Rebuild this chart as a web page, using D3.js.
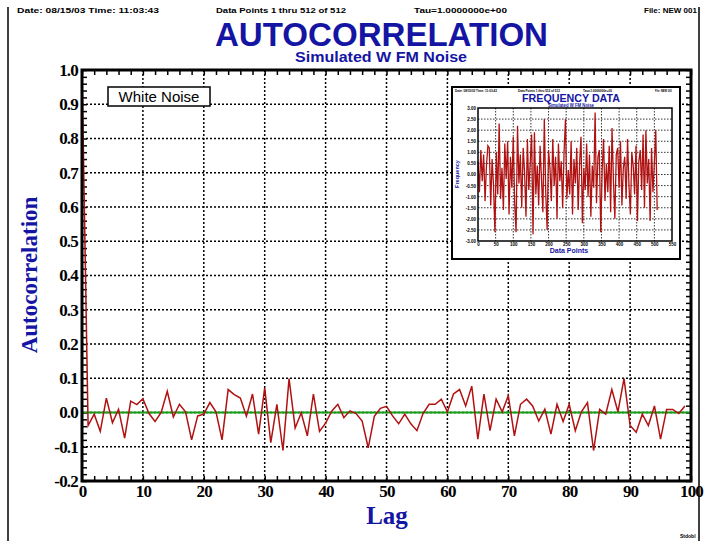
<!DOCTYPE html>
<html>
<head>
<meta charset="utf-8">
<script src="https://cdn.jsdelivr.net/npm/d3@7"></script>
<style>
body { margin: 0; background: #fff; }
svg { display: block; }
</style>
</head>
<body>
<svg width="705" height="541"></svg>
<script>
// autocorrelation by lag (lag = index)
var acf = [1.0, -0.038, -0.005, -0.055, 0.042, -0.03, 0.009, -0.075, 0.033, 0.023,
	0.04, -0.003, -0.026, 0.0, 0.062, -0.013, 0.024, 0.002, -0.08, -0.01,
	-0.005, 0.029, 0.002, -0.08, 0.067, 0.052, 0.042, -0.011, 0.054, -0.063,
	0.072, -0.088, 0.024, -0.111, 0.099, -0.045, -0.001, -0.068, 0.054, -0.055,
	-0.031, 0.004, 0.024, -0.015, 0.005, -0.003, -0.025, -0.103, -0.011, 0.012,
	0.018, -0.01, -0.033, -0.005, -0.033, -0.053, -0.003, 0.024, 0.024, 0.039,
	0.002, 0.054, 0.067, 0.019, 0.077, -0.078, 0.054, -0.053, 0.039, 0.002,
	0.049, -0.068, 0.024, 0.039, 0.019, -0.025, 0.01, -0.063, 0.024, -0.026,
	0.024, -0.053, 0.002, 0.029, -0.111, 0.009, -0.005, 0.067, 0.002, 0.099,
	-0.038, -0.058, -0.005, -0.038, 0.019, -0.078, 0.009, 0.009, -0.003, 0.019];

var xTicks = [0, 10, 20, 30, 40, 50, 60, 70, 80, 90, 100];
var yTicks = [-0.2, -0.1, 0.0, 0.1, 0.2, 0.3, 0.4, 0.5, 0.6, 0.7, 0.8, 0.9, 1.0];

// inset: frequency data, every 4th data point
var freqStep = 4;
var freq = [0.6, -0.8, 1.1, -0.3, 0.9, -1.2, 0.4, 1.3, 1.2, -1.4,
	0.7, -0.5, -2.6, 1.0, -0.9, 2.3, -1.1, 0.3, -1.6, 1.4,
	-0.2, 1.5, -1.8, 0.8, -0.6, 1.7, -1.3, -2.6, 2.2, -0.4,
	0.9, -1.5, 1.2, 0.1, -1.9, 1.6, -0.7, 0.5, 1.8, -2.7,
	1.9, -0.9, 0.4, -1.4, 1.3, -0.2, -1.7, 2.5, -0.8, -2.5,
	1.1, 0.3, -1.2, 1.6, -0.5, 0.8, -2.0, 1.4, -0.3, 0.6,
	-1.5, 1.0, 2.5, -1.1, 0.2, -0.9, 1.5, -1.8, 0.7, -0.4,
	1.2, -1.6, 0.5, 1.7, -2.2, 0.3, -0.7, 1.4, -1.0, 0.9,
	-1.9, 0.4, -0.6, 2.8, -1.3, 0.8, 1.1, -2.6, 0.2, 1.6,
	-1.2, 0.5, -0.8, 1.3, -1.7, 2.1, -0.3, -2.0, 0.9, 1.2,
	-0.6, 1.5, -1.4, 0.3, 0.8, -1.1, 1.6, -0.5, -1.8, 1.0,
	0.4, -0.9, 1.3, -2.1, 0.6, 1.1, -0.7, 1.8, -1.5, 2.0,
	-0.4, 0.7, -2.1, 1.2, -0.8, 0.5, 2.0, -1.6];
var insetXTicks = [0, 50, 100, 150, 200, 250, 300, 350, 400, 450, 500, 550];
var insetYTicks = [-3, -2.5, -2, -1.5, -1, -0.5, 0, 0.5, 1, 1.5, 2, 2.5, 3];

var headerTexts = ["Date: 08/15/03  Time: 11:03:43", "Data Points 1 thru 512 of 512", "Tau=1.0000000e+00", "File: NEW 001"];

var svg = d3.select("svg");
var blue = "#1515a3";
var red = "#b01212";
var sans = "'Liberation Sans', Arial, sans-serif";
var serif = "'Liberation Serif', 'Times New Roman', serif";

// page border
svg.append("line").attr("x1", 8).attr("x2", 8).attr("y1", 7).attr("y2", 541).attr("stroke", "#000").attr("stroke-width", 1.5);
svg.append("line").attr("x1", 699).attr("x2", 699).attr("y1", 7).attr("y2", 541).attr("stroke", "#000").attr("stroke-width", 1.5);

// header line
var hdr = svg.append("g").attr("font-family", sans).attr("font-size", 7.5).attr("font-weight", "bold").attr("fill", "#000");
hdr.append("text").attr("x", 17).attr("y", 13).attr("textLength", 142).attr("lengthAdjust", "spacingAndGlyphs").text(headerTexts[0]);
hdr.append("text").attr("x", 216).attr("y", 13).attr("textLength", 130).attr("lengthAdjust", "spacingAndGlyphs").text(headerTexts[1]);
hdr.append("text").attr("x", 414).attr("y", 13).attr("textLength", 93).attr("lengthAdjust", "spacingAndGlyphs").text(headerTexts[2]);
hdr.append("text").attr("x", 644).attr("y", 13).attr("textLength", 53).attr("lengthAdjust", "spacingAndGlyphs").text(headerTexts[3]);

// titles
svg.append("text").attr("x", 215).attr("y", 46).attr("textLength", 333).attr("lengthAdjust", "spacingAndGlyphs")
	.attr("font-family", sans).attr("font-size", 34).attr("font-weight", "bold").attr("fill", blue).text("AUTOCORRELATION");
svg.append("text").attr("x", 295).attr("y", 62).attr("textLength", 172).attr("lengthAdjust", "spacingAndGlyphs")
	.attr("font-family", sans).attr("font-size", 15).attr("font-weight", "bold").attr("fill", blue).text("Simulated W FM Noise");

// main scales
var x = d3.scaleLinear().domain([0, 100]).range([82, 691]);
var y = d3.scaleLinear().domain([-0.2, 1.0]).range([481, 70]);

var g = svg.append("g");

// dotted grid
g.append("g").selectAll("line").data(xTicks.slice(1, -1)).enter().append("line")
	.attr("x1", (d) => x(d)).attr("x2", (d) => x(d)).attr("y1", y(1.0)).attr("y2", y(-0.2))
	.attr("stroke", "#000").attr("stroke-width", 1.5).attr("stroke-dasharray", "2,2");
g.append("g").selectAll("line").data(yTicks.slice(1, -1)).enter().append("line")
	.attr("x1", x(0)).attr("x2", x(100)).attr("y1", (d) => y(d)).attr("y2", (d) => y(d))
	.attr("stroke", "#000").attr("stroke-width", 1.5).attr("stroke-dasharray", "2,2");

// minor ticks, inward on all sides
var minorX = x.ticks(50), minorY = y.ticks(60);
function tickAxis(axis, ticks, size, tr) {
	var a = g.append("g").attr("transform", tr).call(axis.tickValues(ticks).tickSize(size).tickFormat(""));
	a.select(".domain").remove();
	a.selectAll("line").attr("stroke", "#000").attr("stroke-width", 1.5);
}
tickAxis(d3.axisTop(x), minorX, 5, "translate(0," + y(-0.2) + ")");
tickAxis(d3.axisBottom(x), minorX, 5, "translate(0," + y(1.0) + ")");
tickAxis(d3.axisRight(y), minorY, 5, "translate(" + x(0) + ",0)");
tickAxis(d3.axisLeft(y), minorY, 5, "translate(" + x(100) + ",0)");

// zero line
g.append("line").attr("x1", x(0)).attr("x2", x(100)).attr("y1", y(0)).attr("y2", y(0))
	.attr("stroke", "#14a014").attr("stroke-width", 2);

// autocorrelation line
var line = d3.line().x((d, i) => x(i)).y((d) => y(d));
g.append("path").datum(acf).attr("d", line).attr("fill", "none").attr("stroke", red).attr("stroke-width", 1.5);

// frame
g.append("rect").attr("x", x(0)).attr("y", y(1.0)).attr("width", x(100) - x(0)).attr("height", y(-0.2) - y(1.0))
	.attr("fill", "none").attr("stroke", "#000").attr("stroke-width", 3);

// tick labels
var yAx = g.append("g").attr("transform", "translate(" + (x(0) - 3) + ",0)")
	.call(d3.axisLeft(y).tickValues(yTicks).tickSize(0).tickPadding(1).tickFormat((d) => d.toFixed(1)));
yAx.select(".domain").remove();
yAx.selectAll("text").attr("font-family", serif).attr("font-size", 17).attr("font-weight", "bold").attr("fill", "#000").attr("letter-spacing", -0.8);
var xAx = g.append("g").attr("transform", "translate(0," + (y(-0.2) + 3) + ")")
	.call(d3.axisBottom(x).tickValues(xTicks).tickSize(0).tickPadding(1).tickFormat(d3.format("d")));
xAx.select(".domain").remove();
xAx.selectAll("text").attr("font-family", serif).attr("font-size", 17).attr("font-weight", "bold").attr("fill", "#000").attr("letter-spacing", -0.8);

// axis titles
svg.append("text").attr("transform", "translate(37,275) rotate(-90)").attr("text-anchor", "middle")
	.attr("font-family", serif).attr("font-size", 23).attr("font-weight", "bold").attr("fill", blue).text("Autocorrelation");
svg.append("text").attr("x", 387).attr("y", 524).attr("text-anchor", "middle")
	.attr("font-family", serif).attr("font-size", 25).attr("font-weight", "bold").attr("fill", blue).text("Lag");

// legend box
svg.append("rect").attr("x", 108).attr("y", 87).attr("width", 102).attr("height", 19)
	.attr("fill", "#fff").attr("stroke", "#000").attr("stroke-width", 1.5);
svg.append("text").attr("x", 159).attr("y", 102).attr("text-anchor", "middle")
	.attr("font-family", sans).attr("font-size", 15).attr("fill", "#000").text("White Noise");

svg.append("text").attr("x", 680).attr("y", 538).attr("font-family", sans).attr("font-size", 5).attr("font-weight", "bold").text("Stdobl");

// ---- inset: frequency data ----
var ins = svg.append("g");
ins.append("rect").attr("x", 452).attr("y", 87).attr("width", 228).attr("height", 172)
	.attr("fill", "#fff").attr("stroke", "#000").attr("stroke-width", 2);

var ix = d3.scaleLinear().domain([0, 550]).range([478, 672]);
var iy = d3.scaleLinear().domain([-3, 3]).range([241, 108]);

var ihdr = ins.append("g").attr("font-family", sans).attr("font-size", 3.2).attr("font-weight", "bold");
ihdr.append("text").attr("x", 455).attr("y", 91.5).attr("textLength", 42).attr("lengthAdjust", "spacingAndGlyphs").text(headerTexts[0]);
ihdr.append("text").attr("x", 518).attr("y", 91.5).attr("textLength", 42).attr("lengthAdjust", "spacingAndGlyphs").text(headerTexts[1]);
ihdr.append("text").attr("x", 583).attr("y", 91.5).attr("textLength", 29).attr("lengthAdjust", "spacingAndGlyphs").text(headerTexts[2]);
ihdr.append("text").attr("x", 655).attr("y", 91.5).attr("textLength", 17).attr("lengthAdjust", "spacingAndGlyphs").text(headerTexts[3]);

ins.append("text").attr("x", 571).attr("y", 102).attr("text-anchor", "middle").attr("textLength", 98).attr("lengthAdjust", "spacingAndGlyphs")
	.attr("font-family", sans).attr("font-size", 11).attr("font-weight", "bold").attr("fill", blue).text("FREQUENCY DATA");
ins.append("text").attr("x", 571).attr("y", 107).attr("text-anchor", "middle").attr("textLength", 46).attr("lengthAdjust", "spacingAndGlyphs")
	.attr("font-family", sans).attr("font-size", 4.5).attr("font-weight", "bold").attr("fill", blue).text("Simulated W FM Noise");

ins.append("g").selectAll("line").data(insetXTicks.slice(1, -1)).enter().append("line")
	.attr("x1", (d) => ix(d)).attr("x2", (d) => ix(d)).attr("y1", iy(3)).attr("y2", iy(-3))
	.attr("stroke", "#000").attr("stroke-width", 0.8).attr("stroke-dasharray", "1.5,1.5");
ins.append("g").selectAll("line").data(insetYTicks.slice(1, -1)).enter().append("line")
	.attr("x1", ix(0)).attr("x2", ix(550)).attr("y1", (d) => iy(d)).attr("y2", (d) => iy(d))
	.attr("stroke", "#000").attr("stroke-width", 0.8).attr("stroke-dasharray", "1.5,1.5");

var iline = d3.line().x((d, i) => ix(i * freqStep)).y((d) => iy(d));
ins.append("path").datum(freq).attr("d", iline).attr("fill", "none").attr("stroke", red).attr("stroke-width", 1.3);

ins.append("rect").attr("x", ix(0)).attr("y", iy(3)).attr("width", ix(550) - ix(0)).attr("height", iy(-3) - iy(3))
	.attr("fill", "none").attr("stroke", "#000").attr("stroke-width", 1.5);

var iyAx = ins.append("g").attr("transform", "translate(" + (ix(0) - 1) + ",0)")
	.call(d3.axisLeft(iy).tickValues(insetYTicks).tickSize(0).tickPadding(1).tickFormat((d) => d.toFixed(2)));
iyAx.select(".domain").remove();
iyAx.selectAll("text").attr("font-family", sans).attr("font-size", 4.5).attr("font-weight", "bold").attr("fill", "#000");
var ixAx = ins.append("g").attr("transform", "translate(0," + (iy(-3) + 1) + ")")
	.call(d3.axisBottom(ix).tickValues(insetXTicks).tickSize(0).tickPadding(1).tickFormat(d3.format("d")));
ixAx.select(".domain").remove();
ixAx.selectAll("text").attr("font-family", sans).attr("font-size", 4.5).attr("font-weight", "bold").attr("fill", "#000");

ins.append("text").attr("transform", "translate(459,174) rotate(-90)").attr("text-anchor", "middle")
	.attr("font-family", sans).attr("font-size", 5.5).attr("font-weight", "bold").attr("fill", blue).text("Frequency");
ins.append("text").attr("x", 569).attr("y", 253).attr("text-anchor", "middle")
	.attr("font-family", sans).attr("font-size", 7).attr("font-weight", "bold").attr("fill", blue).text("Data Points");
</script>
</body>
</html>
